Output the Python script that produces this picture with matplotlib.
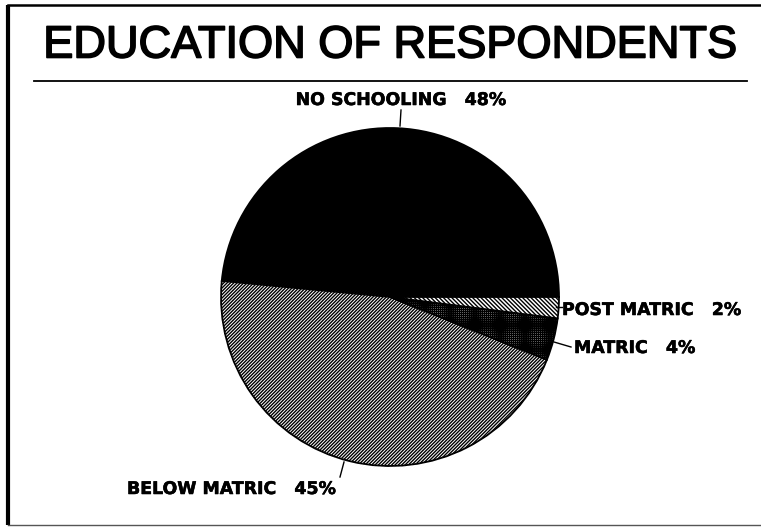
import matplotlib.pyplot as plt
import matplotlib.patheffects as pe

categories = ["NO SCHOOLING", "BELOW MATRIC", "MATRIC", "POST MATRIC"]
percent = [48, 45, 4, 2]
hatches = ["", "//////////", "++++++++", "\\\\\\\\\\\\\\\\"]
colors = ["black", "white", "white", "white"]

W, H = 761, 527

fig = plt.figure(figsize=(W / 100, H / 100), dpi=100)
ax = fig.add_axes([0, 0, 1, 1])


def Y(y):
    # image rows -> axes y (y up)
    return H - y


# frame and title rule
ax.plot([8, 8], [Y(5), Y(525)], color="black", lw=3, solid_capstyle="butt")
ax.plot([8, W], [Y(5), Y(5)], color="black", lw=1.8)
ax.plot([8, W], [Y(525), Y(525)], color="#555555", lw=1)
ax.plot([34, 747], [Y(81), Y(81)], color="black", lw=1.3)

thick = [pe.withStroke(linewidth=1.2, foreground="black")]
ax.text(390, Y(46), "EDUCATION OF RESPONDENTS", ha="center", va="center",
        fontsize=32.5, family="Liberation Sans", color="black",
        path_effects=thick)

wedges, _ = ax.pie(percent, colors=colors, startangle=0, counterclock=True,
                   center=(390, Y(297)), radius=169, frame=True,
                   wedgeprops=dict(edgecolor="black", linewidth=1.3))
for w, h in zip(wedges, hatches):
    w.set_hatch(h)
ax.set_xlim(0, W)
ax.set_ylim(0, H)
ax.set_aspect("equal")
ax.axis("off")

lab = dict(fontsize=12.5, fontweight="bold", family="DejaVu Sans", va="center",
           path_effects=[pe.withStroke(linewidth=0.4, foreground="black")])

ax.text(401, Y(100), f"{categories[0]}   {percent[0]}%", ha="center", **lab)
ax.plot([401, 400], [Y(110), Y(126)], color="black", lw=1)

ax.text(562, Y(310), f"{categories[3]}   {percent[3]}%", ha="left", **lab)
ax.plot([556, 562], [Y(307), Y(307)], color="black", lw=1)

ax.text(574, Y(348), f"{categories[2]}   {percent[2]}%", ha="left", **lab)
ax.plot([554, 571], [Y(342), Y(347)], color="black", lw=1)

ax.text(127, Y(489), f"{categories[1]}   {percent[1]}%", ha="left", **lab)
ax.plot([344, 340], [Y(462), Y(477)], color="black", lw=1)

fig.savefig("out.png", dpi=100, facecolor="white")
